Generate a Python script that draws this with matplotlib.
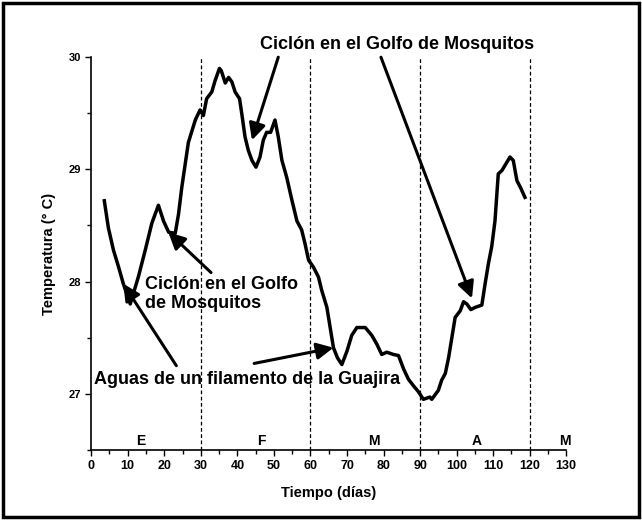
import matplotlib.pyplot as plt
from matplotlib.patches import Rectangle

# Serie de temperatura
dias = [3.6, 4.7, 6.1, 7.5, 8.8, 10.7, 12.9, 14.8, 16.6, 18.4, 19.8, 21.2, 23.0,
        23.9, 24.8, 25.7, 26.6, 28.5, 29.8, 30.7, 31.6, 33.0, 33.9, 35.1, 35.6,
        36.7, 37.6, 38.5, 39.4, 40.6, 41.2, 42.1, 43.0, 44.0, 45.1, 46.2, 47.1,
        48.0, 49.1, 50.3, 51.2, 52.2, 53.5, 54.9, 56.3, 57.6, 58.5, 59.5, 60.8,
        62.2, 63.1, 64.5, 65.4, 66.3, 67.4, 68.6, 70.0, 71.3, 72.7, 75.0, 76.8,
        78.2, 79.5, 80.9, 82.7, 84.1, 85.5, 86.8, 88.2, 89.5, 90.9, 92.7, 93.2,
        95.0, 95.9, 96.9, 97.8, 98.7, 99.6, 101.0, 101.9, 102.8, 103.9, 105.1,
        106.9, 107.8, 108.7, 109.6, 110.5, 111.4, 112.4, 113.5, 114.6, 115.5,
        116.5, 117.6, 118.7]
temp = [28.72, 28.48, 28.28, 28.13, 27.98, 27.80, 28.04, 28.28, 28.52, 28.68,
        28.54, 28.44, 28.43, 28.60, 28.84, 29.04, 29.24, 29.44, 29.53, 29.48,
        29.63, 29.69, 29.79, 29.90, 29.88, 29.77, 29.82, 29.78, 29.69, 29.63,
        29.50, 29.29, 29.17, 29.08, 29.02, 29.11, 29.26, 29.33, 29.33, 29.44,
        29.29, 29.08, 28.93, 28.73, 28.54, 28.46, 28.34, 28.19, 28.13, 28.04,
        27.92, 27.77, 27.59, 27.41, 27.32, 27.26, 27.38, 27.52, 27.59, 27.59,
        27.52, 27.44, 27.35, 27.37, 27.35, 27.34, 27.22, 27.13, 27.07, 27.02,
        26.95, 26.97, 26.95, 27.03, 27.12, 27.18, 27.32, 27.50, 27.68, 27.74,
        27.82, 27.80, 27.75, 27.77, 27.79, 27.98, 28.16, 28.31, 28.54, 28.96,
        28.99, 29.05, 29.11, 29.08, 28.90, 28.83, 28.75]

limites_mes = [30, 60, 90, 120]
meses = ['E', 'F', 'M', 'A', 'M']
pos_meses = [13.7, 46.5, 77.4, 105.4, 129.6]

plt.rcParams['font.family'] = ['Liberation Sans', 'DejaVu Sans']

fig = plt.figure(figsize=(6.42, 5.20), dpi=100)
ax = fig.add_axes([0.142, 0.135, 0.740, 0.755])

for x in limites_mes:
    ax.axvline(x, color='black', linestyle=(0, (3, 2)), linewidth=0.9)

ax.plot(dias, temp, color='black', linewidth=2.5, solid_joinstyle='round')

for m, x in zip(meses, pos_meses):
    ax.text(x, 26.52, m, ha='center', va='bottom', fontsize=10, fontweight='bold')

ax.set_xlim(0, 130)
ax.set_ylim(26.5, 30)
ax.set_xticks(range(0, 131, 10))
ax.set_xticks(range(0, 131, 5), minor=True)
ax.set_yticks([27, 28, 29, 30])
ax.set_yticks([26.5, 27.5, 28.5, 29.5], minor=True)
ax.tick_params(axis='both', which='major', length=4, width=1, labelsize=9)
ax.tick_params(axis='both', which='minor', length=3, width=1)
ax.tick_params(axis='y', labelsize=8)
for lab in ax.get_xticklabels() + ax.get_yticklabels():
    lab.set_fontweight('bold')

for s in ['top', 'right']:
    ax.spines[s].set_visible(False)
for s in ['left', 'bottom']:
    ax.spines[s].set_linewidth(1.2)

ax.set_xlabel('Tiempo (días)', fontsize=10.5, fontweight='bold', labelpad=10)
ax.set_ylabel('Temperatura (° C)', fontsize=10.5, fontweight='bold', labelpad=9)

flecha = dict(arrowstyle='-|>', color='black', lw=2.2, mutation_scale=25,
              shrinkA=0, shrinkB=0)

# Ciclón (arriba)
ax.text(83.7, 30.11, 'Ciclón en el Golfo de Mosquitos', ha='center', va='center',
        fontsize=13, fontweight='bold', clip_on=False)
ax.annotate('', xy=(44.0, 29.26), xytext=(51.2, 30.0), arrowprops=flecha,
            annotation_clip=False)
ax.annotate('', xy=(104.2, 27.85), xytext=(79.3, 30.0), arrowprops=flecha,
            annotation_clip=False)

# Ciclón (izquierda)
ax.text(14.8, 27.885, 'Ciclón en el Golfo\nde Mosquitos', ha='left', va='center',
        fontsize=13, fontweight='bold', linespacing=1.15)
ax.annotate('', xy=(21.1, 28.44), xytext=(32.8, 28.08), arrowprops=flecha)

# Aguas de la Guajira
ax.text(0.8, 27.13, 'Aguas de un filamento de la Guajira', ha='left', va='center',
        fontsize=13, fontweight='bold')
ax.annotate('', xy=(8.8, 27.98), xytext=(23.3, 27.25), arrowprops=flecha)
ax.annotate('', xy=(66.3, 27.41), xytext=(44.6, 27.27), arrowprops=flecha)

fig.patches.append(Rectangle((0.005, 0.005), 0.99, 0.99, transform=fig.transFigure,
                             fill=False, edgecolor='black', linewidth=2.5))

fig.savefig('out.png', dpi=100)
